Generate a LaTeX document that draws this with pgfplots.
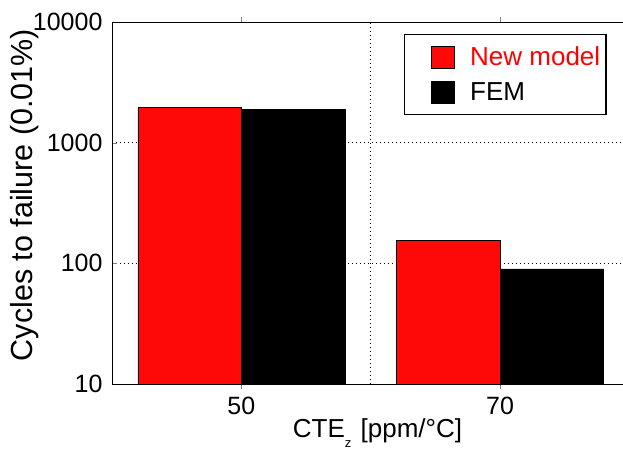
\documentclass[border=0pt]{standalone}
\usepackage{pgfplots}
\pgfplotsset{compat=1.18}
\usepackage{fontspec}
\setmainfont{Liberation Sans}
\usetikzlibrary{calc}
\definecolor{barred}{RGB}{255,8,8}
\pgfplotsset{sqlegend/.style={legend image code/.code={\path (0pt,0pt); \draw[##1, draw=black, line width=0.5pt] (22pt,-11pt) rectangle (45pt,11pt);}}}
\begin{document}
\begin{tikzpicture}
\begin{axis}[
  scale only axis,
  width=517.5pt, height=362pt,
  xmin=-0.5, xmax=1.5,
  ymode=log, ymin=10, ymax=10000, log origin=infty,
  xtick={0,1}, xticklabels={50,70},
  ytick={10,100,1000,10000}, yticklabels={10,100,1000,10000},
  yminorticks=false,
  /pgf/number format/assume math mode=true,
  tick label style={font=\fontsize{25}{29}\selectfont},
  yticklabel style={xshift=-6pt},
  xticklabel style={yshift=-5pt},
  major tick length=5pt,
  tick align=inside,
  ymajorgrids=true,
  major grid style={dash pattern=on 1.2pt off 2.8pt, black, line width=0.9pt},
  extra x ticks={0.5}, extra x tick labels={},
  extra x tick style={grid=major, major tick length=0pt},
  axis line style={black, line width=0.8pt},
  xlabel={CTE\raisebox{-0.35em}{\fontsize{13}{13}\selectfont z}\hspace{2pt} [ppm/°C]},
  xlabel style={at={(axis description cs:0.513,-0.149)}, anchor=base, font=\fontsize{26}{30}\selectfont},
  ylabel={Cycles to failure (0.01\%)},
  ylabel style={at={(axis description cs:-0.1527,0.522)}, anchor=base, font=\fontsize{30.5}{34}\selectfont},
  legend style={at={(axis description cs:0.9565,0.967)}, anchor=north east,
    draw=black, line width=1.5pt, font=\fontsize{26}{30}\selectfont,
    inner xsep=4pt, inner ysep=10pt, row sep=12pt,
    /tikz/every odd column/.append style={column sep=14pt}},
  legend cell align=left,
  ybar, bar width=0.4,
]
\addplot[fill=barred, draw=black, line width=0.5pt, bar shift=-0.2, sqlegend] coordinates {(0,1950) (1,156)};
\addlegendentry{\textcolor{red}{New model}}
\addplot[fill=black, draw=black, line width=0.5pt, bar shift=0.2, sqlegend] coordinates {(0,1890) (1,90)};
\addlegendentry{FEM}
\coordinate (bl) at (rel axis cs:0,0);
\end{axis}
\pgfresetboundingbox
\path[use as bounding box] ($(bl)+(-112pt,-66pt)$) rectangle ($(bl)+(511pt,384pt)$);
\end{tikzpicture}
\end{document}
